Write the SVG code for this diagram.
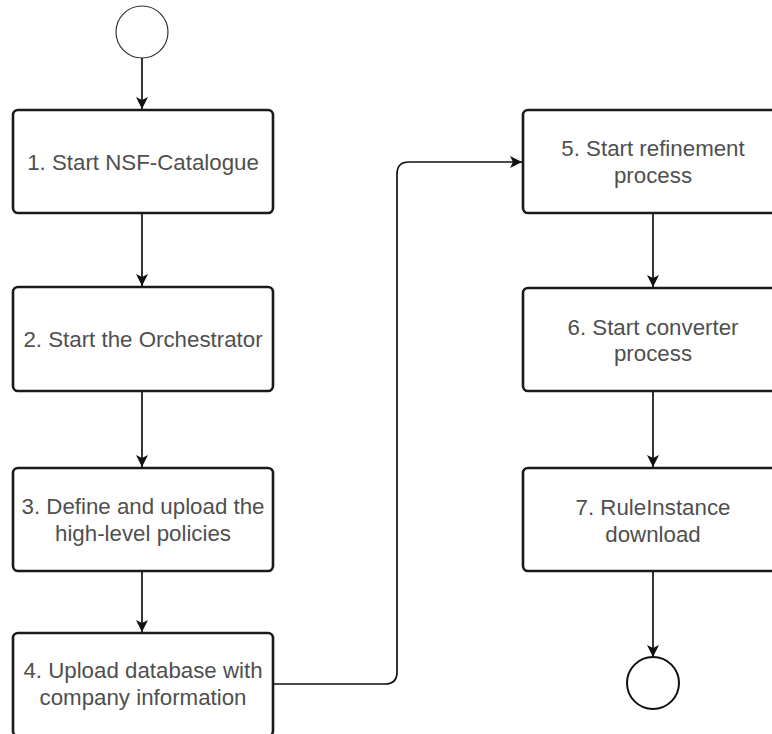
<svg xmlns="http://www.w3.org/2000/svg" width="772" height="734" viewBox="0 0 772 734">
<defs>
<marker id="arr" viewBox="0 0 12 12" refX="12" refY="6" markerWidth="12" markerHeight="12" markerUnits="userSpaceOnUse" orient="auto">
<path d="M0,0 L12,6 L0,12 L3,6 Z" fill="#111"/>
</marker>
</defs>
<style>
.box{fill:#fff;stroke:#1a1a1a;stroke-width:2.6}
.lbl{font-family:"Liberation Sans",Arial,sans-serif;font-size:22.3px;fill:#4f4f4f;text-anchor:middle;dominant-baseline:central}
.edge{fill:none;stroke:#111;stroke-width:1.7}
</style>
<rect width="772" height="734" fill="#fff"/>
<g id="start"><circle cx="142" cy="32" r="26" fill="#fff" stroke="#333" stroke-width="1.2"/></g>
<g id="n1"><rect class="box" x="13" y="110" width="260" height="103" rx="5"/><text class="lbl" x="143" y="162">1. Start NSF-Catalogue</text></g>
<g id="n2"><rect class="box" x="13" y="287" width="260" height="104" rx="5"/><text class="lbl" x="143" y="339">2. Start the Orchestrator</text></g>
<g id="n3"><rect class="box" x="13" y="468" width="260" height="103" rx="5"/><text class="lbl" x="143" y="506">3. Define and upload the</text><text class="lbl" x="143" y="533">high-level policies</text></g>
<g id="n4"><rect class="box" x="13" y="633" width="260" height="103" rx="5"/><text class="lbl" x="143" y="670">4. Upload database with</text><text class="lbl" x="143" y="697">company information</text></g>
<g id="n5"><rect class="box" x="523" y="110" width="260" height="103" rx="5"/><text class="lbl" x="653" y="148">5. Start refinement</text><text class="lbl" x="653" y="175">process</text></g>
<g id="n6"><rect class="box" x="523" y="288" width="260" height="103" rx="5"/><text class="lbl" x="653" y="327">6. Start converter</text><text class="lbl" x="653" y="353">process</text></g>
<g id="n7"><rect class="box" x="523" y="468" width="260" height="103" rx="5"/><text class="lbl" x="653" y="507">7. RuleInstance</text><text class="lbl" x="653" y="534">download</text></g>
<g id="end"><circle cx="653" cy="683" r="26" fill="#fff" stroke="#111" stroke-width="2"/></g>
<g id="connectors">
<path class="edge" d="M142,58 V109" marker-end="url(#arr)"/>
<path class="edge" d="M142,214 V286" marker-end="url(#arr)"/>
<path class="edge" d="M142,392 V467" marker-end="url(#arr)"/>
<path class="edge" d="M142,572 V632" marker-end="url(#arr)"/>
<path class="edge" d="M274,684 H385 Q397,684 397,672 V174 Q397,162 409,162 H522" marker-end="url(#arr)"/>
<path class="edge" d="M653,214 V287" marker-end="url(#arr)"/>
<path class="edge" d="M653,392 V467" marker-end="url(#arr)"/>
<path class="edge" d="M653,572 V657" marker-end="url(#arr)"/>
</g>
</svg>
